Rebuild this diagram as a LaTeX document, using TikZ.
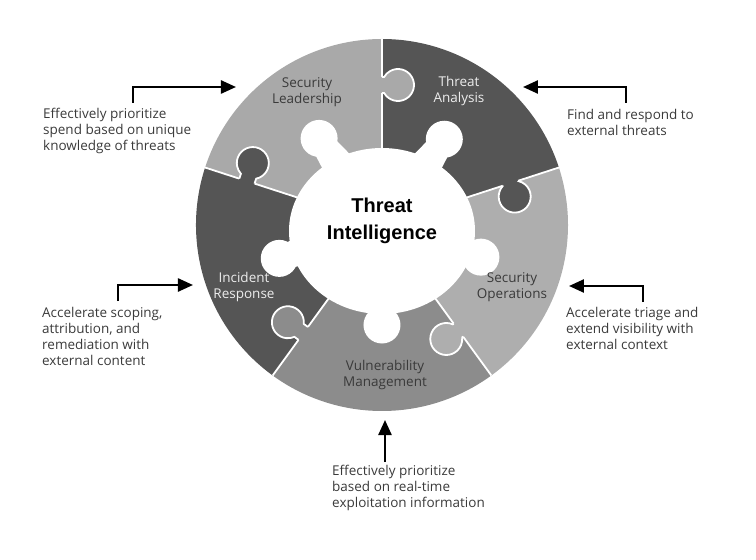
\documentclass[tikz,border=0pt]{standalone}
\usepackage{fontspec}
\setmainfont{Open Sans}
\newfontfamily\headfont{Liberation Sans}
\usepackage{tikz}
\usetikzlibrary{arrows.meta}
\definecolor{pcdark}{HTML}{555555}
\definecolor{pclight}{HTML}{A9A9A9}
\definecolor{pcmid}{HTML}{8C8C8C}
\definecolor{pcsoft}{HTML}{AEAEAE}
\definecolor{txtdark}{HTML}{3A3A3A}
\definecolor{txtpale}{HTML}{EDEDED}
\tikzset{
  % --- puzzle ring ------------------------------------------------------------
  seam/.style={white,line width=1.8pt},
  piecelab/.style={align=center,inner sep=0pt,font=\fontsize{13.5}{16}\selectfont},
  onlight/.style={piecelab,text=txtdark},
  ondark/.style={piecelab,text=txtpale},
  % --- notes round the ring ---------------------------------------------------
  note/.style={align=left,anchor=west,inner sep=0pt,text=txtdark,
               font=\fontsize{13.5}{16}\selectfont},
  arr/.style={-{Triangle[length=15pt,width=13pt]},line width=2.4pt,black},
}
\begin{document}
\begin{tikzpicture}[x=1pt,y=1pt]
  \useasboundingbox (-382,-335) rectangle (374,225);
  % pieces: one sector each, tab at its first edge
  \foreach \a/\col in {18/pcdark,90/pclight,162/pcdark,234/pcmid,306/pcsoft}
    \fill[\col] (0,0) -- (\a:186) arc[start angle=\a,end angle=\a+72,radius=186] -- cycle;
  \foreach \a in {18,90,162,234,306} \draw[seam] (0,0) -- (\a:186);
  \foreach \a/\col/\rr/\off in {18/pcdark/135/14,90/pclight/140/16,162/pcdark/142/19,
                                234/pcmid/134/19,306/pcsoft/130/15}{
    \begin{scope}[rotate=\a]
      \fill[\col] (\rr-8,2) -- (\rr-8,-\off+13.86) arc[start angle=120,end angle=420,radius=16] -- (\rr+8,2) -- cycle;
      \draw[seam] (\rr-8,0) -- (\rr-8,-\off+13.86) arc[start angle=120,end angle=420,radius=16] -- (\rr+8,0);
    \end{scope}
  }
  % white hub with its knobs
  \fill[white] (0,-6) ellipse[x radius=93,y radius=83];
  \foreach \a/\rr in {54/106,126/107,198/108,270/100,342/104}{
    \fill[white] (\a:\rr) circle[radius=18.5];
    \fill[white,rotate=\a] (60,-18) -- (\rr-6,-12) -- (\rr-6,12) -- (60,18) -- cycle;
  }
  \node[font=\headfont\bfseries\fontsize{20}{27}\selectfont,align=center,text=black] (hub) at (0,4) {Threat\\Intelligence};
  \node[onlight] (lead) at (-75,133) {Security\\Leadership};
  \node[ondark] (anal) at (77,134) {Threat\\Analysis};
  \node[ondark] (incid) at (-138,-62) {Incident\\Response};
  \node[onlight] (secop) at (130,-62) {Security\\Operations};
  \node[onlight] (vulm) at (3,-150) {Vulnerability\\Management};
  % notes and arrows
  \node[note] (nspend) at (-339,94) {Effectively prioritize\\spend based on unique\\knowledge of threats};
  \node[note] (nfind) at (185,103) {Find and respond to\\external threats};
  \node[note] (nscope) at (-340,-111) {Accelerate scoping,\\attribution, and\\remediation with\\external content};
  \node[note] (ntriage) at (184,-103) {Accelerate triage and\\extend visibility with\\external context};
  \node[note] (nvuln) at (-50,-263) {Effectively prioritize\\based on real-time\\exploitation information};
  \coordinate (spendA) at (-249,122); \coordinate (spendB) at (-146,138);
  \coordinate (findA) at (244,122);   \coordinate (findB) at (141,138);
  \coordinate (scopeA) at (-264,-76); \coordinate (scopeB) at (-189,-60);
  \coordinate (triageA) at (261,-77); \coordinate (triageB) at (187,-61);
  \coordinate (vulnA) at (3,-237);    \coordinate (vulnB) at (3,-195);
  \foreach \s in {spend,find,scope,triage} \draw[arr] (\s A) |- (\s B);
  \draw[arr] (vulnA) -- (vulnB);
\end{tikzpicture}
\end{document}
